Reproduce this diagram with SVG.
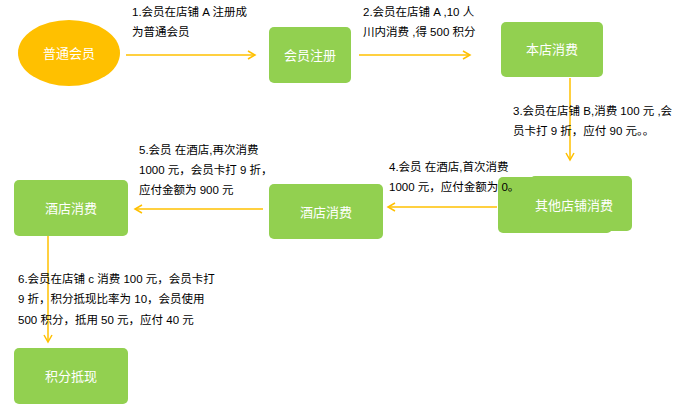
<svg xmlns="http://www.w3.org/2000/svg" width="698" height="417" viewBox="0 0 698 417">
<style>
.n{fill:#92d050}
.nt{fill:#fff;font-family:"Noto Sans CJK SC",sans-serif;font-size:13px;text-anchor:middle}
.l{fill:#000;font-family:"Liberation Sans","Noto Sans CJK SC",sans-serif;font-size:11.5px}
.c{stroke:#ffc000;stroke-width:1.5;fill:none;marker-end:url(#a)}
</style>
<defs><marker id="a" markerWidth="10" markerHeight="10" refX="8" refY="5" orient="auto" markerUnits="userSpaceOnUse"><path d="M1,1 L8,5 L1,9" fill="none" stroke="#ffc000" stroke-width="1.5"/></marker></defs>
<rect width="698" height="417" fill="#fff"/>
<g id="n1"><ellipse cx="69" cy="53" rx="51" ry="33" fill="#ffc000"/><text class="nt" x="69" y="58">普通会员</text></g>
<g id="n2"><rect class="n" x="269" y="27" width="82" height="56" rx="5"/><text class="nt" x="310" y="60">会员注册</text></g>
<g id="n3"><rect class="n" x="501" y="22" width="102" height="55" rx="5"/><text class="nt" x="552" y="54">本店消费</text></g>
<g id="n4"><rect class="n" x="498" y="177" width="114" height="56" rx="5"/><rect class="n" x="530" y="176" width="102" height="55" rx="5"/><text class="nt" x="574" y="210">其他店铺消费</text></g>
<g id="n5"><rect class="n" x="269" y="184" width="114" height="55" rx="5"/><text class="nt" x="326" y="217">酒店消费</text></g>
<g id="n6"><rect class="n" x="14" y="180" width="114" height="56" rx="5"/><text class="nt" x="71" y="213">酒店消费</text></g>
<g id="n7"><rect class="n" x="14" y="348" width="114" height="56" rx="5"/><text class="nt" x="71" y="381">积分抵现</text></g>
<g id="connectors">
<line class="c" x1="126" y1="55" x2="255" y2="55"/>
<line class="c" x1="359" y1="55" x2="470" y2="55"/>
<line class="c" x1="570" y1="78" x2="570" y2="160"/>
<line class="c" x1="497" y1="207" x2="388" y2="207"/>
<line class="c" x1="263" y1="209" x2="135" y2="209"/>
<line class="c" x1="48" y1="236" x2="48" y2="342"/>
</g>
<g id="labels">
<text class="l" x="132" y="16">1.会员在店铺 A 注册成</text><text class="l" x="132" y="36">为普通会员</text>
<text class="l" x="363" y="16">2.会员在店铺 A ,10 人</text><text class="l" x="363" y="36">川内消费 ,得 500 积分</text>
<text class="l" x="513" y="115">3.会员在店铺 B,消费 100 元 ,会</text><text class="l" x="513" y="135">员卡打 9 折，应付 90 元。。</text>
<text class="l" x="389" y="171">4.会员 在酒店,首次消费</text><text class="l" x="389" y="191">1000 元，应付金额为 0。</text>
<text class="l" x="139" y="154">5.会员 在酒店,再次消费</text><text class="l" x="139" y="174">1000 元，会员卡打 9 折，</text><text class="l" x="139" y="194">应付金额为 900 元</text>
<text class="l" x="18" y="283">6.会员在店铺 c 消费 100 元，会员卡打</text><text class="l" x="18" y="303">9 折，积分抵现比率为 10，会员使用</text><text class="l" x="18" y="324">500 积分，抵用 50 元，应付 40 元</text>
</g>
</svg>
